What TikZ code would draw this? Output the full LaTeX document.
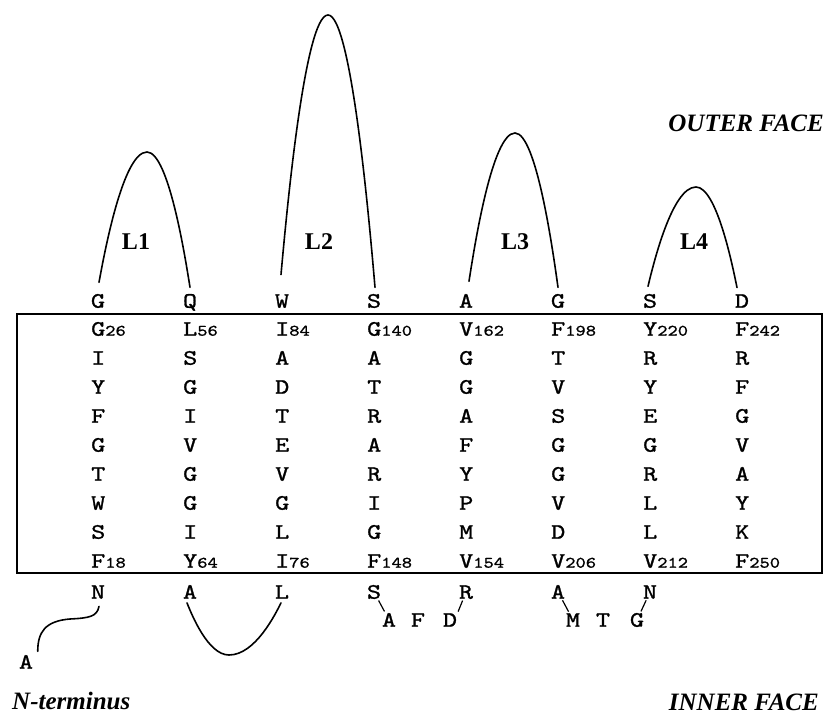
\documentclass[tikz,border=0pt]{standalone}
\usepackage{fontspec}
\setmainfont{Liberation Serif}
\newfontfamily\seqfont{lmmono10-regular.otf}[FakeStretch=1.22, FakeBold=1.2]
\usetikzlibrary{calc}
\newcommand{\resno}[1]{{\fontsize{16}{16}\selectfont#1}}
\tikzset{
  aa/.style={font=\fontsize{22}{22}\selectfont\seqfont, inner sep=0.5pt, anchor=base},
  aas/.style={aa, anchor=base west},
  lp/.style={line width=1.6pt, line cap=round},
  ln/.style={line width=1.2pt, shorten <=1pt, shorten >=1pt},
  frame/.style={line width=2pt},
  lbl/.style={font=\fontsize{24}{24}\selectfont\bfseries, inner sep=0pt, anchor=base},
  face/.style={font=\fontsize{25}{25}\selectfont\bfseries\itshape, inner sep=0pt},
}
\begin{document}
\begin{tikzpicture}[x=1pt, y=-1pt]
    \useasboundingbox (0,0) rectangle (825,714);
    % membrane block
    \draw[frame] (17,314) rectangle (822,573);
    \foreach \seq [count=\c] in {
      {G\resno{26},I,Y,F,G,T,W,S,F\resno{18}},
      {L\resno{56},S,G,I,V,G,G,I,Y\resno{64}},
      {I\resno{84},A,D,T,E,V,G,L,I\resno{76}},
      {G\resno{140},A,T,R,A,R,I,G,F\resno{148}},
      {V\resno{162},G,G,A,F,Y,P,M,V\resno{154}},
      {F\resno{198},T,V,S,G,G,V,D,V\resno{206}},
      {Y\resno{220},R,Y,E,G,R,L,L,V\resno{212}},
      {F\resno{242},R,F,G,V,A,Y,K,F\resno{250}}}{
      \foreach \aa [count=\r] in \seq
        \node[aas] (m\c-\r) at ({92*\c+6-7.5},{306.7+29*\r}) {\aa};
    }
    % outer and inner rows
    \foreach \aa [count=\c] in {G,Q,W,S,A,G,S,D}
      \node[aa] (o\c) at ({92*\c+6},307.7) {\aa};
    \foreach \aa [count=\c] in {N,A,L,S,R,A,N}
      \node[aa] (b\c) at ({92*\c+6},598.7) {\aa};
    \node[aa] (xa) at (389,626.7) {A};
    \node[aa] (xf) at (418,626.7) {F};
    \node[aa] (xd) at (450,626.7) {D};
    \node[aa] (xm) at (573,626.7) {M};
    \node[aa] (xt) at (603,626.7) {T};
    \node[aa] (xg) at (637,626.7) {G};
    \node[aa] (na) at (26,668.7) {A};
    % loops
    \coordinate (k1) at (147,152);
    \coordinate (k2) at (328,15);
    \coordinate (k3) at (515,133);
    \coordinate (k4) at (696,187);
    \coordinate (k5) at (229,655);
    \coordinate (nb) at (70,619);
    \draw[lp] ([xshift=1pt,yshift=11pt]o1.north) parabola bend (k1) ([yshift=6pt]o2.north);
    \draw[lp] ([xshift=-1pt,yshift=19pt]o3.north) parabola bend (k2) ([xshift=1pt,yshift=6pt]o4.north);
    \draw[lp] ([xshift=3pt,yshift=12pt]o5.north) parabola bend (k3) ([yshift=6pt]o6.north);
    \draw[lp] ([xshift=-2pt,yshift=7pt]o7.north) parabola bend (k4) ([xshift=-5pt,yshift=6pt]o8.north);
    \draw[lp] ([xshift=-3pt,yshift=-3.5pt]b2.south) parabola bend (k5) ([xshift=-1pt,yshift=-3.5pt]b3.south);
    \draw[lp] ([xshift=1pt,yshift=-7pt]b1.south) .. controls +(-2,10) and +(20,-1) .. (nb)
      .. controls +(-25,2) and +(0,-19) .. ([xshift=4pt,yshift=3pt]na.north east);
    \draw[ln] (b4) -- (xa);
    \draw[ln] (xd.north east) -- (b5);
    \draw[ln] (b6) -- (xm);
    \draw[ln] (xg) -- (b7);
    \node[lbl] (l1) at (136,250) {L1};
    \node[lbl] (l2) at (319,250) {L2};
    \node[lbl] (l3) at (515,250) {L3};
    \node[lbl] (l4) at (694,250) {L4};
    \node[face, anchor=base east] (outer) at (824,132) {OUTER FACE};
    \node[face, anchor=base east] (inner) at (819,710) {INNER FACE};
    \node[face, anchor=base west] (nterm) at (12,709) {N-terminus};
\end{tikzpicture}
\end{document}
